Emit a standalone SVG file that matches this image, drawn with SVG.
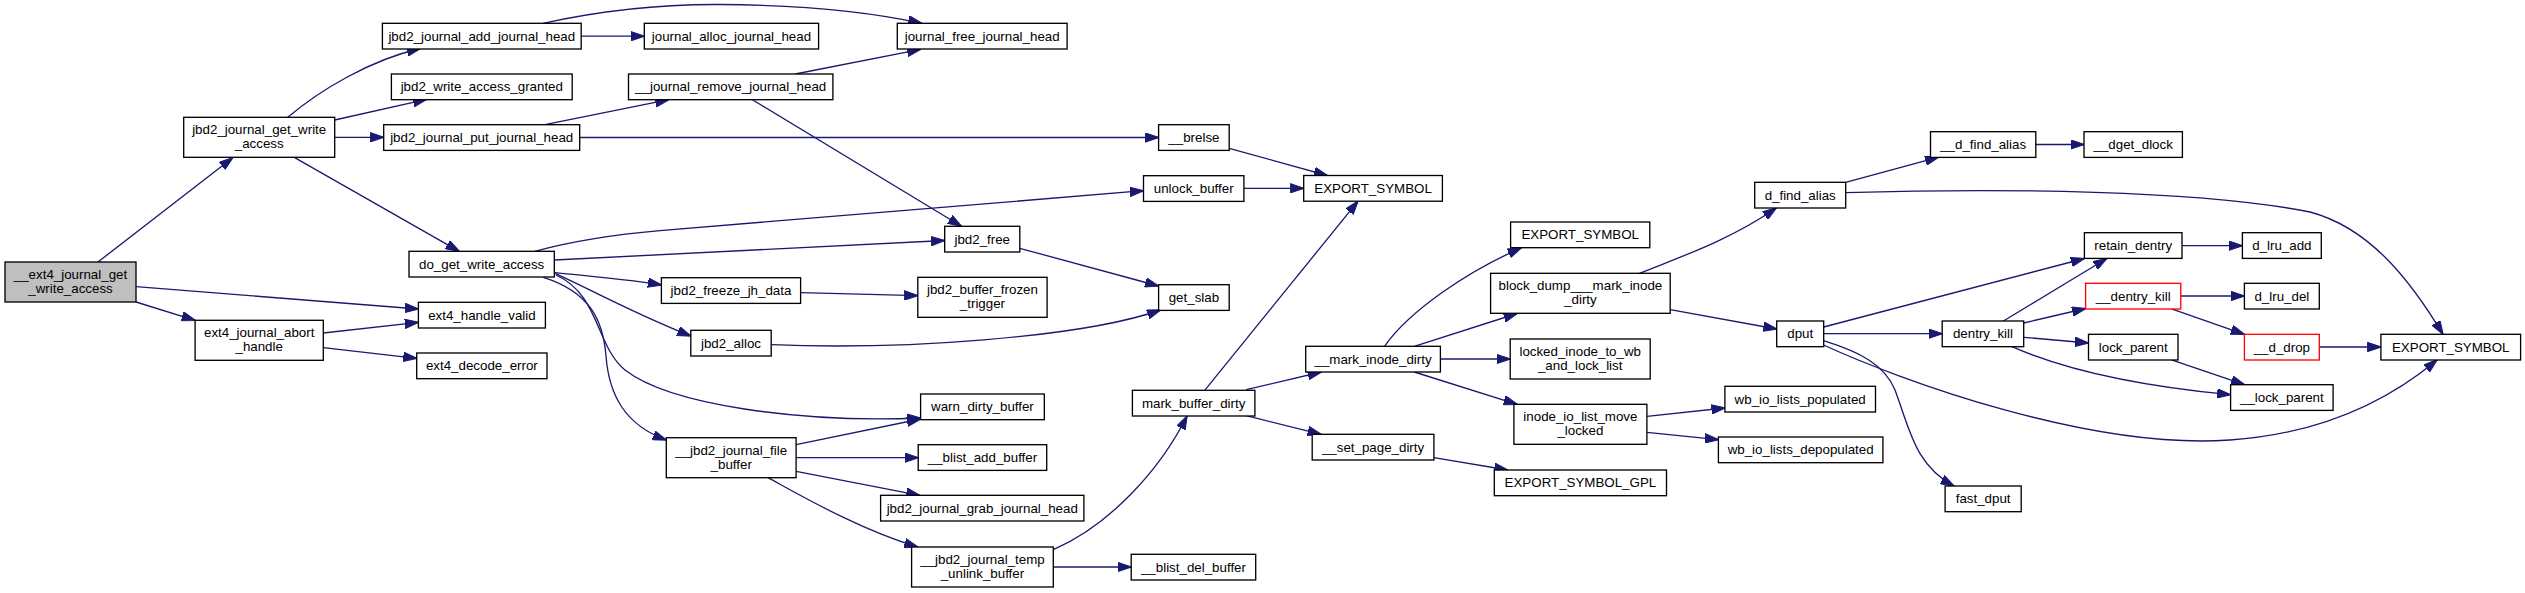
<svg xmlns="http://www.w3.org/2000/svg" width="2525" height="593" viewBox="0 0 2525 593">
<style>
.node rect{fill:#fff;stroke:#000;stroke-width:1.33}
.root rect{fill:#bfbfbf}
.red rect{stroke:#ff0000}
text{font-family:"Liberation Sans",Arial,Helvetica,sans-serif;font-size:13.33px;text-anchor:middle;fill:#000}
.edges path{fill:none;stroke:#191970;stroke-width:1.33;marker-end:url(#arr)}
</style>
<defs>
<marker id="arr" markerUnits="userSpaceOnUse" markerWidth="14" markerHeight="10" viewBox="0 0 14 10" refX="13.5" refY="5" orient="auto">
<path d="M0,0.3 L14,5 L0,9.7 z" fill="#191970" stroke="#191970" stroke-width="1"/>
</marker>
</defs>
<rect width="2525" height="593" fill="#fff"/>
<g class="edges" id="edges">
<path d="M98,262 L232.7,157.7"/>
<path d="M136,286.7 L418.4,309"/>
<path d="M136,302 L195.1,320.3"/>
<path d="M287.8,117.3 C320,90 370,60 420.4,48.5"/>
<path d="M334.7,120 L426.5,99.3"/>
<path d="M334.7,137.3 L383.7,137.3"/>
<path d="M294.7,157.7 L459.2,251.3"/>
<path d="M323.3,333 L418.4,322.3"/>
<path d="M323.3,347.7 L416.7,358.3"/>
<path d="M581.2,36.2 L644.3,36.2"/>
<path d="M543,23.3 C590,13 650,4 720,4.5 C800,5 870,12 921.8,23.3"/>
<path d="M544.9,124.7 L668.8,99.7"/>
<path d="M579.6,137.5 L1158.6,137.5"/>
<path d="M795.3,74 L920.6,49.3"/>
<path d="M752.4,99.7 L961.4,226.3"/>
<path d="M534.7,251.3 C580,239 620,234 660,230.6 L1143.5,190.7"/>
<path d="M554.3,260 L944.7,240.5"/>
<path d="M554.3,272.7 C590,276 630,279.5 661.4,285"/>
<path d="M555,273.3 C580,284 630,312 690.8,336"/>
<path d="M556,275 C600,295 595,345 625,370 C670,405 800,423 920.6,418"/>
<path d="M543.3,277.3 C590,292 603,320 606,356 C609,395 625,425 666.3,440"/>
<path d="M800.6,292.7 L917.8,295.7"/>
<path d="M1019.8,248.3 L1158.6,286"/>
<path d="M771.2,344.7 C900,350 1080,338 1160.6,310"/>
<path d="M1229.2,148.3 L1327.3,175.5"/>
<path d="M1243.9,188.3 L1303.7,188.3"/>
<path d="M796.1,444.7 L920.6,419"/>
<path d="M796.1,457.7 L918.2,457.7"/>
<path d="M796.1,471.3 L919.8,495.3"/>
<path d="M768,477.7 C800,495 860,530 917.8,547"/>
<path d="M1053.3,549.7 C1110,525 1160,470 1187,416"/>
<path d="M1053.3,567 L1131.2,567"/>
<path d="M1204.7,390.3 L1358,201.2"/>
<path d="M1246.3,389.7 L1321.2,372"/>
<path d="M1246.3,415.7 L1321.2,434.3"/>
<path d="M1433.9,457.7 L1507.8,470"/>
<path d="M1384.5,346.3 C1410,310 1470,270 1521.2,248"/>
<path d="M1414.3,346.3 L1517.1,313.5"/>
<path d="M1440.4,359 L1510.2,359"/>
<path d="M1414.3,372 L1517.1,404.3"/>
<path d="M1639.6,273.3 C1680,257 1730,240 1776.3,208"/>
<path d="M1670.2,309.7 L1776.7,329"/>
<path d="M1646.9,416.3 L1724.9,408"/>
<path d="M1646.9,432.3 L1718.4,439.7"/>
<path d="M1845.7,182.3 L1938.6,157.2"/>
<path d="M1845.7,192.7 C2000,188 2200,190 2310,212 C2370,228 2410,280 2443,334.3"/>
<path d="M2035.8,144.5 L2084,144.5"/>
<path d="M1823.7,333.7 L1942.2,333.7"/>
<path d="M1823.7,327 L2084.4,258.5"/>
<path d="M1823.5,340.7 C1860,352 1885,365 1895,390 C1910,430 1915,465 1954,486"/>
<path d="M1823.5,345 C1900,380 2090,450 2230,440 C2330,433 2395,395 2437,359.9"/>
<path d="M2003.4,321 L2106.7,258.5"/>
<path d="M2023.7,323 L2085.6,308.5"/>
<path d="M2023.7,337.3 L2088.5,343"/>
<path d="M2011.5,346.3 C2060,368 2130,385 2230.6,394.7"/>
<path d="M2180.8,296 L2244.4,296"/>
<path d="M2171.5,308.9 L2244.4,334.3"/>
<path d="M2182,245.7 L2242.4,245.7"/>
<path d="M2171.5,359.9 L2244.4,384.7"/>
<path d="M2319.3,347 L2380.9,347"/>
</g>
<g id="n_ext4_journal_get_write_access" class="node root"><rect x="5" y="262" width="131" height="40"/><text x="70.5" y="279">__ext4_journal_get</text><text x="70.5" y="293">_write_access</text></g>
<g id="n_jbd2_journal_get_write_access" class="node"><rect x="183.7" y="117.3" width="151" height="40"/><text x="259.2" y="134.3">jbd2_journal_get_write</text><text x="259.2" y="148.3">_access</text></g>
<g id="n_ext4_journal_abort_handle" class="node"><rect x="195.1" y="320.3" width="128.2" height="40"/><text x="259.2" y="337.3">ext4_journal_abort</text><text x="259.2" y="351.3">_handle</text></g>
<g id="n_jbd2_journal_add_journal_head" class="node"><rect x="382.4" y="23.3" width="198.8" height="25.7"/><text x="481.8" y="40.75">jbd2_journal_add_journal_head</text></g>
<g id="n_jbd2_write_access_granted" class="node"><rect x="391.4" y="74" width="180.8" height="25.7"/><text x="481.8" y="91.45">jbd2_write_access_granted</text></g>
<g id="n_jbd2_journal_put_journal_head" class="node"><rect x="383.7" y="124.7" width="196" height="25.7"/><text x="481.7" y="142.15">jbd2_journal_put_journal_head</text></g>
<g id="n_do_get_write_access" class="node"><rect x="409" y="251.3" width="145.3" height="25.7"/><text x="481.65" y="268.75">do_get_write_access</text></g>
<g id="n_ext4_handle_valid" class="node"><rect x="418.4" y="302.3" width="127" height="25.7"/><text x="481.9" y="319.75">ext4_handle_valid</text></g>
<g id="n_ext4_decode_error" class="node"><rect x="416.7" y="353" width="130.3" height="25.7"/><text x="481.85" y="370.45">ext4_decode_error</text></g>
<g id="n_journal_alloc_journal_head" class="node"><rect x="644.3" y="23.3" width="174.3" height="25.7"/><text x="731.45" y="40.75">journal_alloc_journal_head</text></g>
<g id="n_journal_remove_journal_head" class="node"><rect x="628.5" y="74" width="204.4" height="25.7"/><text x="730.7" y="91.45">__journal_remove_journal_head</text></g>
<g id="n_jbd2_freeze_jh_data" class="node"><rect x="661.4" y="277.7" width="139.2" height="25.7"/><text x="731" y="295.15">jbd2_freeze_jh_data</text></g>
<g id="n_jbd2_alloc" class="node"><rect x="690.8" y="330.3" width="80.4" height="25.7"/><text x="731" y="347.75">jbd2_alloc</text></g>
<g id="n_jbd2_journal_file_buffer" class="node"><rect x="666.3" y="437.7" width="129.8" height="40"/><text x="731.2" y="454.7">__jbd2_journal_file</text><text x="731.2" y="468.7">_buffer</text></g>
<g id="n_journal_free_journal_head" class="node"><rect x="897.3" y="23.3" width="169.8" height="25.7"/><text x="982.2" y="40.75">journal_free_journal_head</text></g>
<g id="n_jbd2_free" class="node"><rect x="944.7" y="226.3" width="75.1" height="25.7"/><text x="982.25" y="243.75">jbd2_free</text></g>
<g id="n_jbd2_buffer_frozen_trigger" class="node"><rect x="917.8" y="277.3" width="129.3" height="40"/><text x="982.45" y="294.3">jbd2_buffer_frozen</text><text x="982.45" y="308.3">_trigger</text></g>
<g id="n_warn_dirty_buffer" class="node"><rect x="920.6" y="394" width="123.7" height="25.7"/><text x="982.45" y="411.45">warn_dirty_buffer</text></g>
<g id="n_blist_add_buffer" class="node"><rect x="918.2" y="444.7" width="128.5" height="25.7"/><text x="982.45" y="462.15">__blist_add_buffer</text></g>
<g id="n_jbd2_journal_grab_journal_head" class="node"><rect x="880.6" y="495.3" width="203.3" height="25.7"/><text x="982.25" y="512.75">jbd2_journal_grab_journal_head</text></g>
<g id="n_jbd2_journal_temp_unlink_buffer" class="node"><rect x="911.6" y="547" width="141.7" height="40"/><text x="982.45" y="564">__jbd2_journal_temp</text><text x="982.45" y="578">_unlink_buffer</text></g>
<g id="n_brelse" class="node"><rect x="1158.6" y="124.7" width="70.6" height="25.7"/><text x="1193.9" y="142.15">__brelse</text></g>
<g id="n_unlock_buffer" class="node"><rect x="1143.5" y="175.7" width="100.4" height="25.7"/><text x="1193.7" y="193.15">unlock_buffer</text></g>
<g id="n_get_slab" class="node"><rect x="1158.6" y="284.7" width="70.6" height="25.7"/><text x="1193.9" y="302.15">get_slab</text></g>
<g id="n_mark_buffer_dirty" class="node"><rect x="1132.4" y="390.3" width="122.5" height="25.7"/><text x="1193.65" y="407.75">mark_buffer_dirty</text></g>
<g id="n_blist_del_buffer" class="node"><rect x="1131.2" y="554.3" width="124.5" height="25.7"/><text x="1193.45" y="571.75">__blist_del_buffer</text></g>
<g id="n_export_symbol_1" class="node"><rect x="1303.7" y="175.5" width="138.7" height="25.7"/><text x="1373.05" y="192.95">EXPORT_SYMBOL</text></g>
<g id="n_mark_inode_dirty" class="node"><rect x="1305.7" y="346.3" width="134.7" height="25.7"/><text x="1373.05" y="363.75">__mark_inode_dirty</text></g>
<g id="n_set_page_dirty" class="node"><rect x="1312.2" y="434.3" width="121.7" height="25.7"/><text x="1373.05" y="451.75">__set_page_dirty</text></g>
<g id="n_export_symbol_2" class="node"><rect x="1510.6" y="222" width="139.2" height="25.7"/><text x="1580.2" y="239.45">EXPORT_SYMBOL</text></g>
<g id="n_block_dump_mark_inode_dirty" class="node"><rect x="1490.6" y="273.3" width="179.6" height="40"/><text x="1580.4" y="290.3">block_dump___mark_inode</text><text x="1580.4" y="304.3">_dirty</text></g>
<g id="n_locked_inode_to_wb_and_lock_list" class="node"><rect x="1510.2" y="339" width="140" height="40"/><text x="1580.2" y="356">locked_inode_to_wb</text><text x="1580.2" y="370">_and_lock_list</text></g>
<g id="n_inode_io_list_move_locked" class="node"><rect x="1513.9" y="404.3" width="133" height="40"/><text x="1580.4" y="421.3">inode_io_list_move</text><text x="1580.4" y="435.3">_locked</text></g>
<g id="n_export_symbol_gpl" class="node"><rect x="1494.3" y="470" width="172.2" height="25.7"/><text x="1580.4" y="487.45">EXPORT_SYMBOL_GPL</text></g>
<g id="n_d_find_alias" class="node"><rect x="1754.7" y="182.3" width="91" height="25.7"/><text x="1800.2" y="199.75">d_find_alias</text></g>
<g id="n_dput" class="node"><rect x="1776.7" y="321" width="47" height="25.7"/><text x="1800.2" y="338.45">dput</text></g>
<g id="n_wb_io_lists_populated" class="node"><rect x="1724.9" y="386.3" width="150.6" height="25.7"/><text x="1800.2" y="403.75">wb_io_lists_populated</text></g>
<g id="n_wb_io_lists_depopulated" class="node"><rect x="1718.4" y="437" width="164.5" height="25.7"/><text x="1800.65" y="454.45">wb_io_lists_depopulated</text></g>
<g id="n_d_find_alias_internal" class="node"><rect x="1930.5" y="131.7" width="105.3" height="25.7"/><text x="1983.15" y="149.15">__d_find_alias</text></g>
<g id="n_dentry_kill" class="node"><rect x="1942.2" y="321" width="81.5" height="25.7"/><text x="1982.95" y="338.45">dentry_kill</text></g>
<g id="n_fast_dput" class="node"><rect x="1945.1" y="486" width="76.1" height="25.7"/><text x="1983.15" y="503.45">fast_dput</text></g>
<g id="n_dget_dlock" class="node"><rect x="2084" y="131.7" width="98.4" height="25.7"/><text x="2133.2" y="149.15">__dget_dlock</text></g>
<g id="n_retain_dentry" class="node"><rect x="2084.4" y="232.7" width="97.6" height="25.7"/><text x="2133.2" y="250.15">retain_dentry</text></g>
<g id="n_dentry_kill_internal" class="node red"><rect x="2085.6" y="283.3" width="95.2" height="25.7"/><text x="2133.2" y="300.75">__dentry_kill</text></g>
<g id="n_lock_parent" class="node"><rect x="2088.5" y="334.3" width="89.5" height="25.7"/><text x="2133.25" y="351.75">lock_parent</text></g>
<g id="n_d_lru_add" class="node"><rect x="2242.4" y="232.7" width="78.9" height="25.7"/><text x="2281.85" y="250.15">d_lru_add</text></g>
<g id="n_d_lru_del" class="node"><rect x="2244.4" y="283.3" width="74.9" height="25.7"/><text x="2281.85" y="300.75">d_lru_del</text></g>
<g id="n_d_drop" class="node red"><rect x="2244.4" y="334.3" width="74.9" height="25.7"/><text x="2281.85" y="351.75">__d_drop</text></g>
<g id="n_lock_parent_internal" class="node"><rect x="2230.6" y="384.7" width="102.5" height="25.7"/><text x="2281.85" y="402.15">__lock_parent</text></g>
<g id="n_export_symbol_3" class="node"><rect x="2380.9" y="334.3" width="139.7" height="25.7"/><text x="2450.75" y="351.75">EXPORT_SYMBOL</text></g>
</svg>
